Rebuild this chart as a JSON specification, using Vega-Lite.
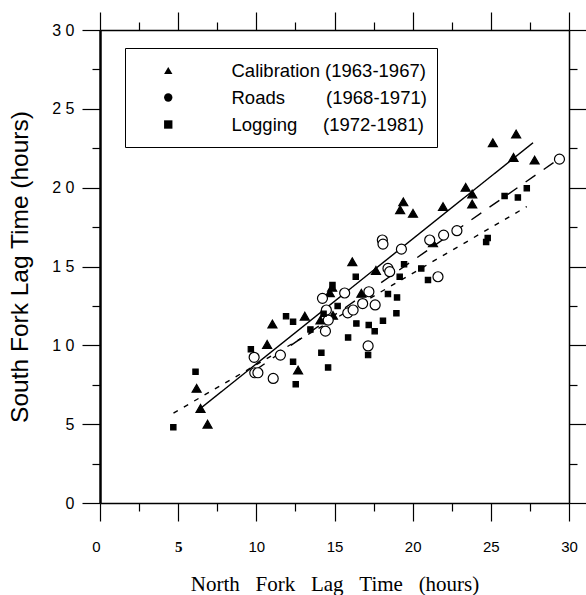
{
  "$schema": "https://vega.github.io/schema/vega-lite/v6.json",
  "width": 469,
  "height": 473,
  "autosize": {"type": "none"},
  "padding": {"left": 100, "top": 30, "right": 17, "bottom": 92},
  "config": {
    "view": {"stroke": null},
    "font": "Liberation Sans",
    "axis": {"domainColor": "black", "tickColor": "black", "labelColor": "black", "titleColor": "black", "grid": false, "tickWidth": 1.2, "domainWidth": 1.5, "labelFont": "Liberation Sans", "labelFontSize": 15, "labelFontWeight": "normal", "labelFlush": false, "labelOverlap": false}
  },
  "datasets": {
    "points": [
      {"series": "Calibration", "x": 6.18, "y": 7.27},
      {"series": "Calibration", "x": 6.43, "y": 6.0},
      {"series": "Calibration", "x": 6.88, "y": 5.0},
      {"series": "Calibration", "x": 10.69, "y": 10.06},
      {"series": "Calibration", "x": 11.03, "y": 11.35},
      {"series": "Calibration", "x": 12.67, "y": 8.43},
      {"series": "Calibration", "x": 14.85, "y": 13.68},
      {"series": "Calibration", "x": 14.7, "y": 13.34},
      {"series": "Calibration", "x": 16.72, "y": 13.3},
      {"series": "Calibration", "x": 13.1, "y": 11.85},
      {"series": "Calibration", "x": 14.1, "y": 11.6},
      {"series": "Calibration", "x": 14.9, "y": 11.9},
      {"series": "Calibration", "x": 16.14, "y": 15.3},
      {"series": "Calibration", "x": 17.65, "y": 14.75},
      {"series": "Calibration", "x": 19.2, "y": 18.6},
      {"series": "Calibration", "x": 19.4, "y": 19.1},
      {"series": "Calibration", "x": 20.02, "y": 18.37},
      {"series": "Calibration", "x": 21.94, "y": 18.8},
      {"series": "Calibration", "x": 21.3, "y": 16.5},
      {"series": "Calibration", "x": 23.39, "y": 20.02},
      {"series": "Calibration", "x": 23.81, "y": 19.6},
      {"series": "Calibration", "x": 23.81, "y": 18.96},
      {"series": "Calibration", "x": 25.13, "y": 22.85},
      {"series": "Calibration", "x": 26.62, "y": 23.4},
      {"series": "Calibration", "x": 26.45, "y": 21.92},
      {"series": "Calibration", "x": 27.8, "y": 21.75},
      {"series": "Roads", "x": 9.86, "y": 9.24},
      {"series": "Roads", "x": 9.9, "y": 8.26},
      {"series": "Roads", "x": 10.1, "y": 8.26},
      {"series": "Roads", "x": 11.08, "y": 7.9},
      {"series": "Roads", "x": 11.54, "y": 9.38},
      {"series": "Roads", "x": 14.23, "y": 12.98},
      {"series": "Roads", "x": 15.65, "y": 13.32},
      {"series": "Roads", "x": 14.48, "y": 12.24},
      {"series": "Roads", "x": 14.42, "y": 10.9},
      {"series": "Roads", "x": 15.85, "y": 12.06},
      {"series": "Roads", "x": 16.19, "y": 12.24},
      {"series": "Roads", "x": 16.8, "y": 12.65},
      {"series": "Roads", "x": 17.6, "y": 12.56},
      {"series": "Roads", "x": 17.2, "y": 13.4},
      {"series": "Roads", "x": 17.15, "y": 9.96},
      {"series": "Roads", "x": 18.06, "y": 16.68},
      {"series": "Roads", "x": 18.1, "y": 16.42},
      {"series": "Roads", "x": 19.28, "y": 16.1},
      {"series": "Roads", "x": 21.09, "y": 16.68},
      {"series": "Roads", "x": 21.98, "y": 16.99},
      {"series": "Roads", "x": 22.83, "y": 17.27},
      {"series": "Roads", "x": 18.42, "y": 14.88},
      {"series": "Roads", "x": 18.53, "y": 14.67},
      {"series": "Roads", "x": 21.62, "y": 14.35},
      {"series": "Roads", "x": 29.39, "y": 21.81},
      {"series": "Roads", "x": 14.6, "y": 11.6},
      {"series": "Logging", "x": 6.11, "y": 8.33},
      {"series": "Logging", "x": 4.69, "y": 4.8},
      {"series": "Logging", "x": 9.65, "y": 9.75},
      {"series": "Logging", "x": 12.35, "y": 8.96},
      {"series": "Logging", "x": 12.52, "y": 7.53},
      {"series": "Logging", "x": 12.35, "y": 11.5},
      {"series": "Logging", "x": 14.16, "y": 9.53},
      {"series": "Logging", "x": 14.59, "y": 8.6},
      {"series": "Logging", "x": 15.87, "y": 10.5},
      {"series": "Logging", "x": 16.4, "y": 11.39},
      {"series": "Logging", "x": 17.19, "y": 11.29},
      {"series": "Logging", "x": 17.57, "y": 10.9},
      {"series": "Logging", "x": 17.15, "y": 9.38},
      {"series": "Logging", "x": 18.1, "y": 11.56},
      {"series": "Logging", "x": 18.42, "y": 13.25},
      {"series": "Logging", "x": 19.0, "y": 13.04},
      {"series": "Logging", "x": 18.96, "y": 12.03},
      {"series": "Logging", "x": 13.46, "y": 11.01},
      {"series": "Logging", "x": 16.36, "y": 14.35},
      {"series": "Logging", "x": 19.45, "y": 15.15},
      {"series": "Logging", "x": 19.17, "y": 14.35},
      {"series": "Logging", "x": 20.55, "y": 14.88},
      {"series": "Logging", "x": 20.98, "y": 14.14},
      {"series": "Logging", "x": 27.3, "y": 19.96},
      {"series": "Logging", "x": 26.73, "y": 19.38},
      {"series": "Logging", "x": 25.88, "y": 19.47},
      {"series": "Logging", "x": 24.8, "y": 16.8},
      {"series": "Logging", "x": 24.7, "y": 16.55},
      {"series": "Logging", "x": 14.87, "y": 13.82},
      {"series": "Logging", "x": 11.9, "y": 11.85},
      {"series": "Logging", "x": 14.3, "y": 12.0},
      {"series": "Logging", "x": 15.2, "y": 12.5}
    ],
    "fits": [
      {"series": "Calibration", "x": 6.43, "y": 6.0},
      {"series": "Calibration", "x": 27.7, "y": 22.85},
      {"series": "Roads", "x": 9.9, "y": 8.4},
      {"series": "Roads", "x": 29.1, "y": 21.65},
      {"series": "Logging", "x": 4.7, "y": 5.7},
      {"series": "Logging", "x": 27.3, "y": 18.8}
    ]
  },
  "resolve": {"axis": {"x": "independent", "y": "independent"}},
  "layer": [
    {
      "data": {"name": "fits"},
      "mark": {"type": "line", "color": "black", "strokeWidth": 1.4},
      "encoding": {
        "x": {
          "field": "x", "type": "quantitative",
          "scale": {"domain": [0, 30], "nice": false, "zero": false},
          "axis": {
            "orient": "bottom",
            "values": [0, 2.5, 5, 7.5, 10, 12.5, 15, 17.5, 20, 22.5, 25, 27.5, 30],
            "tickSize": {"condition": {"test": "datum.value % 5 === 0", "value": 18}, "value": 8},
            "labelExpr": "datum.value % 5 === 0 ? datum.label : ''",
            "labelPadding": 18,
            "labelAlign": {"condition": {"test": "datum.value === 0", "value": "right"}, "value": "center"},
            "labelFont": {"condition": {"test": "datum.value === 5", "value": "Liberation Serif"}, "value": "Liberation Sans"},
            "labelFontWeight": {"condition": {"test": "datum.value === 5", "value": "bold"}, "value": "normal"},
            "title": "North\u00a0\u00a0\u00a0Fork\u00a0\u00a0\u00a0Lag\u00a0\u00a0\u00a0Time\u00a0\u00a0\u00a0(hours)",
            "titleFont": "Liberation Serif",
            "titleFontSize": 21,
            "titleFontWeight": "normal",
            "titlePadding": 19
          }
        },
        "y": {
          "field": "y", "type": "quantitative",
          "scale": {"domain": [0, 30], "nice": false, "zero": false},
          "axis": {
            "orient": "left",
            "values": [0, 2.5, 5, 7.5, 10, 12.5, 15, 17.5, 20, 22.5, 25, 27.5, 30],
            "tickSize": {"condition": {"test": "datum.value % 5 === 0", "value": 18}, "value": 8},
            "labelExpr": "datum.value % 5 !== 0 ? '' : (datum.value >= 10 ? floor(datum.value / 10) + ' ' + (datum.value % 10) : datum.label)",
            "labelFontSize": 16,
            "labelPadding": 8,
            "domainWidth": 2.5,
            "title": "South Fork Lag Time (hours)",
            "titleFont": "Liberation Sans",
            "titleFontSize": 24.5,
            "titleFontWeight": "normal",
            "titlePadding": 19
          }
        },
        "detail": {"field": "series", "type": "nominal"},
        "strokeDash": {
          "field": "series", "type": "nominal",
          "scale": {"domain": ["Roads", "Calibration", "Logging"], "range": [[12, 10], [1, 0], [5, 7]]},
          "legend": null
        }
      }
    },
    {
      "data": {"name": "points"},
      "mark": {"type": "point", "filled": true, "stroke": "black", "strokeWidth": 1.2, "opacity": 1},
      "encoding": {
        "x": {
          "field": "x", "type": "quantitative",
          "axis": {
            "orient": "top",
            "values": [0, 2.5, 5, 7.5, 10, 12.5, 15, 17.5, 20, 22.5, 25, 27.5, 30],
            "tickSize": {"condition": {"test": "datum.value % 5 === 0", "value": 18}, "value": 8},
            "labels": false,
            "title": null
          }
        },
        "y": {
          "field": "y", "type": "quantitative",
          "axis": {
            "orient": "right",
            "values": [0, 2.5, 5, 7.5, 10, 12.5, 15, 17.5, 20, 22.5, 25, 27.5, 30],
            "tickSize": {"condition": {"test": "datum.value % 5 === 0", "value": 18}, "value": 8},
            "labels": false,
            "title": null
          }
        },
        "shape": {
          "field": "series", "type": "nominal",
          "scale": {"domain": ["Calibration", "Roads", "Logging"], "range": ["triangle-up", "circle", "square"]},
          "legend": {
            "title": null,
            "orient": "none",
            "legendX": 25,
            "legendY": 18,
            "strokeColor": "black",
            "fillColor": "white",
            "padding": 10,
            "symbolSize": 70,
            "symbolOffset": 24,
            "symbolStrokeColor": "black",
            "symbolFillColor": "black",
            "symbolStrokeWidth": 1.2,
            "labelFont": "Liberation Sans",
            "labelFontSize": 18.5,
            "labelColor": "black",
            "labelOffset": 54,
            "labelLimit": 400,
            "clipHeight": 25,
            "rowPadding": 2,
            "labelExpr": "datum.value === 'Calibration' ? 'Calibration (1963-1967)' : (datum.value === 'Roads' ? 'Roads\u00a0\u00a0\u00a0\u00a0\u00a0\u00a0\u00a0\u00a0(1968-1971)' : 'Logging\u00a0\u00a0\u00a0\u00a0\u00a0(1972-1981)')",
            "encode": {
              "legend": {"strokeWidth": {"value": 2}}
            }
          }
        },
        "fill": {"condition": {"test": "datum.series === 'Roads'", "value": "white"}, "value": "black"},
        "size": {"condition": [{"test": "datum.series === 'Logging'", "value": 28}, {"test": "datum.series === 'Roads'", "value": 100}], "value": 81}
      }
    }
  ]
}
